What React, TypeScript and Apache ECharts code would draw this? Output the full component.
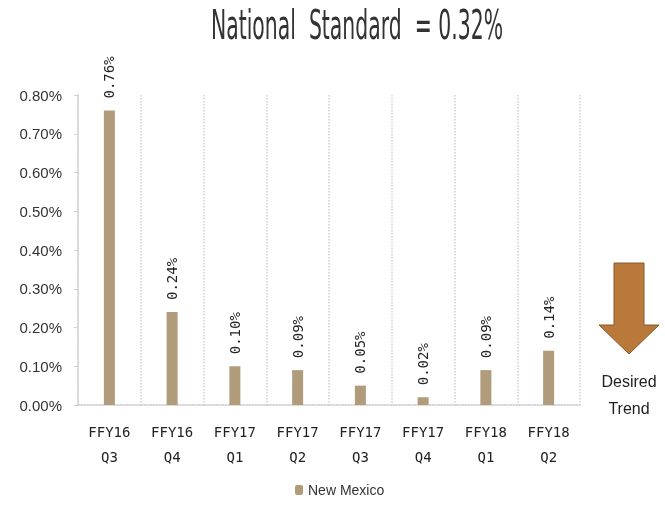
import React, { useEffect, useRef } from "react";
import * as echarts from "echarts";

const categories = ["FFY16\nQ3", "FFY16\nQ4", "FFY17\nQ1", "FFY17\nQ2", "FFY17\nQ3", "FFY17\nQ4", "FFY18\nQ1", "FFY18\nQ2"];
const newMexico = [0.76, 0.24, 0.10, 0.09, 0.05, 0.02, 0.09, 0.14];
const seriesName = "New Mexico";
const titleText = "National  Standard  = 0.32%";
const trendText = "Desired\nTrend";

export default function App() {
  const ref = useRef<HTMLDivElement>(null);
  useEffect(() => {
    if (!ref.current) return;
    const chart = echarts.init(ref.current, undefined, { renderer: "svg" });
    chart.setOption({
      animation: false,
      grid: { left: 78, right: 85, top: 95, bottom: 101 },
      legend: {
        data: [seriesName],
        bottom: 4,
        left: 290,
        itemWidth: 8,
        itemHeight: 10,
        itemGap: 6,
        textStyle: { fontFamily: "'Liberation Sans', sans-serif", fontSize: 14, color: "#333" },
      },
      xAxis: {
        type: "category",
        data: categories,
        axisLine: { show: true, lineStyle: { color: "#c8c8c8", type: "dotted", width: 1.5 } },
        axisTick: { show: false },
        splitLine: { show: true, lineStyle: { color: "#cfcfcf", type: "dotted", width: 1.5 } },
        axisLabel: {
          interval: 0,
          fontFamily: "'DejaVu Sans Mono', monospace",
          fontSize: 14,
          lineHeight: 25,
          color: "#222",
          margin: 14,
        },
      },
      yAxis: {
        type: "value",
        min: 0,
        max: 0.8,
        interval: 0.1,
        axisLine: { show: true, lineStyle: { color: "#d0d0d0", type: "dotted", width: 1.5 } },
        axisTick: { show: true, length: 4, lineStyle: { color: "#d0d0d0" } },
        splitLine: { show: false },
        axisLabel: {
          formatter: (v: number) => v.toFixed(2) + "%",
          fontFamily: "'Liberation Sans', sans-serif",
          fontSize: 15,
          color: "#333",
          margin: 16,
        },
      },
      series: [
        {
          name: seriesName,
          type: "bar",
          data: newMexico,
          barWidth: 11,
          itemStyle: { color: "#b09b7b" },
          label: {
            show: true,
            position: "top",
            rotate: 90,
            align: "left",
            verticalAlign: "middle",
            distance: 12,
            formatter: (p: any) => p.value.toFixed(2) + "%",
            fontFamily: "'DejaVu Sans Mono', monospace",
            fontSize: 14,
            color: "#222",
          },
        },
      ],
      graphic: [
        {
          type: "text",
          x: 357,
          y: 25,
          scaleX: 0.51,
          style: {
            text: titleText,
            align: "center",
            verticalAlign: "middle",
            fontFamily: "'DejaVu Sans ExtraLight', 'DejaVu Sans', sans-serif",
            fontSize: 40,
            fill: "#333",
          },
        },
        {
          type: "polygon",
          shape: {
            points: [
              [614, 263],
              [644, 263],
              [644, 325],
              [659, 325],
              [629, 354],
              [599, 325],
              [614, 325],
            ],
          },
          style: { fill: "#b8793a", stroke: "#8a5a2b", lineWidth: 1 },
        },
        {
          type: "text",
          x: 629,
          y: 368,
          style: {
            text: trendText,
            align: "center",
            fontFamily: "'Liberation Sans', sans-serif",
            fontSize: 16,
            lineHeight: 27,
            fill: "#222",
          },
        },
      ],
    });
    return () => chart.dispose();
  }, []);
  return <div ref={ref} style={{ width: 665, height: 506, position: "fixed", left: 0, top: 0 }} />;
}
